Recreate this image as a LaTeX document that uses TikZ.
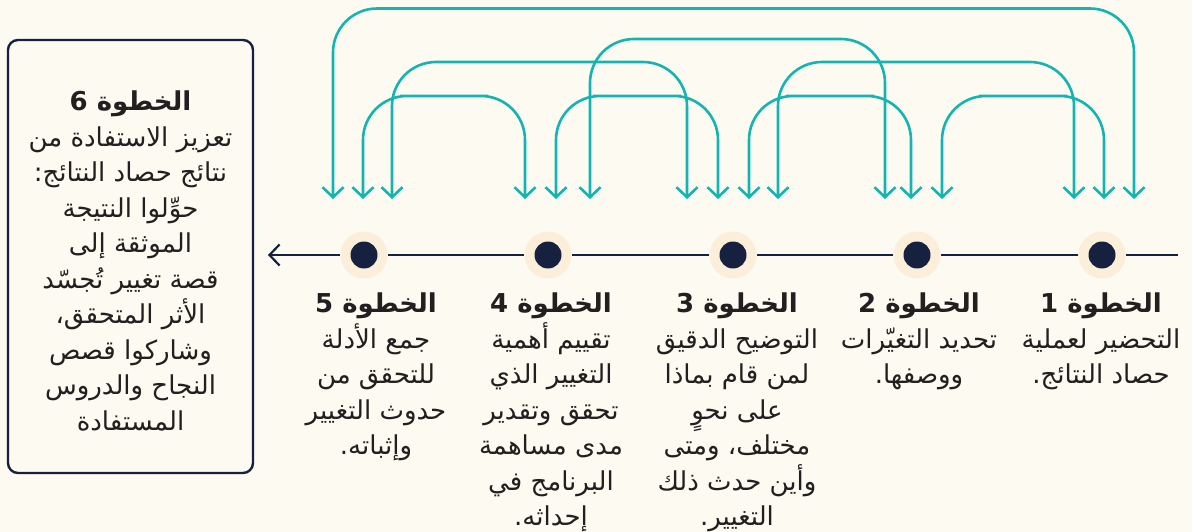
\documentclass[tikz,border=0pt]{standalone}
\usepackage{fontspec}
\usetikzlibrary{arrows.meta}
\TeXXeTstate=1
\newfontfamily\arabicfont[Script=Arabic]{DejaVu Sans}
\definecolor{bgc}{HTML}{FDFAF2}
\definecolor{haloc}{HTML}{FBEFD9}
\definecolor{navyc}{HTML}{15213F}
\definecolor{tealc}{HTML}{12B5AF}
\definecolor{txtc}{HTML}{231F20}
\tikzset{
  link/.style={draw=tealc, line width=2.6pt, rounded corners=44pt,
    {Straight Barb[length=10pt,width=21pt]}-{Straight Barb[length=10pt,width=21pt]}},
  axis/.style={draw=navyc, line width=2.2pt},
  halo/.style={circle, fill=haloc, minimum size=47pt, inner sep=0pt},
  dot/.style={circle, fill=navyc, minimum size=27pt, inner sep=0pt},
  steptext/.style={font=\arabicfont\fontsize{26}{35.5}\selectfont, text=txtc, align=center, inner sep=0pt, anchor=north},
  sixbox/.style={draw=navyc, line width=2.4pt, rounded corners=10pt, fill=bgc}
}
\begin{document}
\begin{tikzpicture}[x=1pt,y=-1pt]
\fill[bgc] (0,0) rectangle (1192,532);
\useasboundingbox (0,0) rectangle (1192,532);

% left box
\draw[sixbox] (8,40) rectangle (253,473);
\node[steptext] (s6) at (130.5,91) {\beginR{\bfseries الخطوة 6}\endR\\
\beginR تعزيز الاستفادة من\endR\\
\beginR نتائج حصاد النتائج:\endR\\
\beginR حوِّلوا النتيجة\endR\\
\beginR الموثقة إلى\endR\\
\beginR قصة تغيير تُجسّد\endR\\
\beginR الأثر المتحقق،\endR\\
\beginR وشاركوا قصص\endR\\
\beginR النجاح والدروس\endR\\
\beginR المستفادة\endR};

% timeline
\node[halo] (h1) at (1102,255) {};
\node[halo] (h2) at (917,255) {};
\node[halo] (h3) at (733,255) {};
\node[halo] (h4) at (548,255) {};
\node[halo] (h5) at (364,255) {};
\node[dot] (d1) at (1102,255) {};
\node[dot] (d2) at (917,255) {};
\node[dot] (d3) at (733,255) {};
\node[dot] (d4) at (548,255) {};
\node[dot] (d5) at (364,255) {};
\coordinate (lineR) at (1178,255);
\coordinate (lineL) at (268,255);
\draw[axis] (lineR) -- (h1);
\draw[axis] (h1) -- (h2);
\draw[axis] (h2) -- (h3);
\draw[axis] (h3) -- (h4);
\draw[axis] (h4) -- (h5);
\draw[axis, -{Straight Barb[length=10pt,width=21pt]}] (h5) -- (lineL);

% arrow end points
\coordinate (p5a) at (333,199);
\coordinate (p5b) at (363,199);
\coordinate (p5c) at (392,199);
\coordinate (p4a) at (525,199);
\coordinate (p4b) at (556,199);
\coordinate (p4c) at (590,199);
\coordinate (p3a) at (687,199);
\coordinate (p3b) at (718,199);
\coordinate (p3c) at (749,199);
\coordinate (p3d) at (778,199);
\coordinate (p2a) at (885,199);
\coordinate (p2b) at (911,199);
\coordinate (p2c) at (942,199);
\coordinate (p1a) at (1074,199);
\coordinate (p1b) at (1104,199);
\coordinate (p1c) at (1134,199);
% arc tops
\coordinate (mA) at (733,8.5);
\coordinate (mD) at (737,39);
\coordinate (mB) at (540,62);
\coordinate (mG) at (926,62);
\coordinate (mC) at (444,96);
\coordinate (mE) at (637,96);
\coordinate (mF) at (830,96);
\coordinate (mH) at (1023,96);

\draw[link] (p5a) |- (mA) -| (p1c);
\draw[link] (p4c) |- (mD) -| (p2a);
\draw[link] (p5c) |- (mB) -| (p3a);
\draw[link] (p3d) |- (mG) -| (p1a);
\draw[link] (p5b) |- (mC) -| (p4a);
\draw[link] (p4b) |- (mE) -| (p3b);
\draw[link] (p3c) |- (mF) -| (p2b);
\draw[link] (p2c) |- (mH) -| (p1b);

% step texts
\node[steptext] (s1) at (1101,293) {\beginR{\bfseries الخطوة 1}\endR\\
\beginR التحضير لعملية\endR\\
\beginR حصاد النتائج.\endR};
\node[steptext] (s2) at (919,293) {\beginR{\bfseries الخطوة 2}\endR\\
\beginR تحديد التغيّرات\endR\\
\beginR ووصفها.\endR};
\node[steptext] (s3) at (737,293) {\beginR{\bfseries الخطوة 3}\endR\\
\beginR التوضيح الدقيق\endR\\
\beginR لمن قام بماذا\endR\\
\beginR على نحوٍ\endR\\
\beginR مختلف، ومتى\endR\\
\beginR وأين حدث ذلك\endR\\
\beginR التغيير.\endR};
\node[steptext] (s4) at (551,293) {\beginR{\bfseries الخطوة 4}\endR\\
\beginR تقييم أهمية\endR\\
\beginR التغيير الذي\endR\\
\beginR تحقق وتقدير\endR\\
\beginR مدى مساهمة\endR\\
\beginR البرنامج في\endR\\
\beginR إحداثه.\endR};
\node[steptext] (s5) at (376,293) {\beginR{\bfseries الخطوة 5}\endR\\
\beginR جمع الأدلة\endR\\
\beginR للتحقق من\endR\\
\beginR حدوث التغيير\endR\\
\beginR وإثباته.\endR};
\end{tikzpicture}
\end{document}
